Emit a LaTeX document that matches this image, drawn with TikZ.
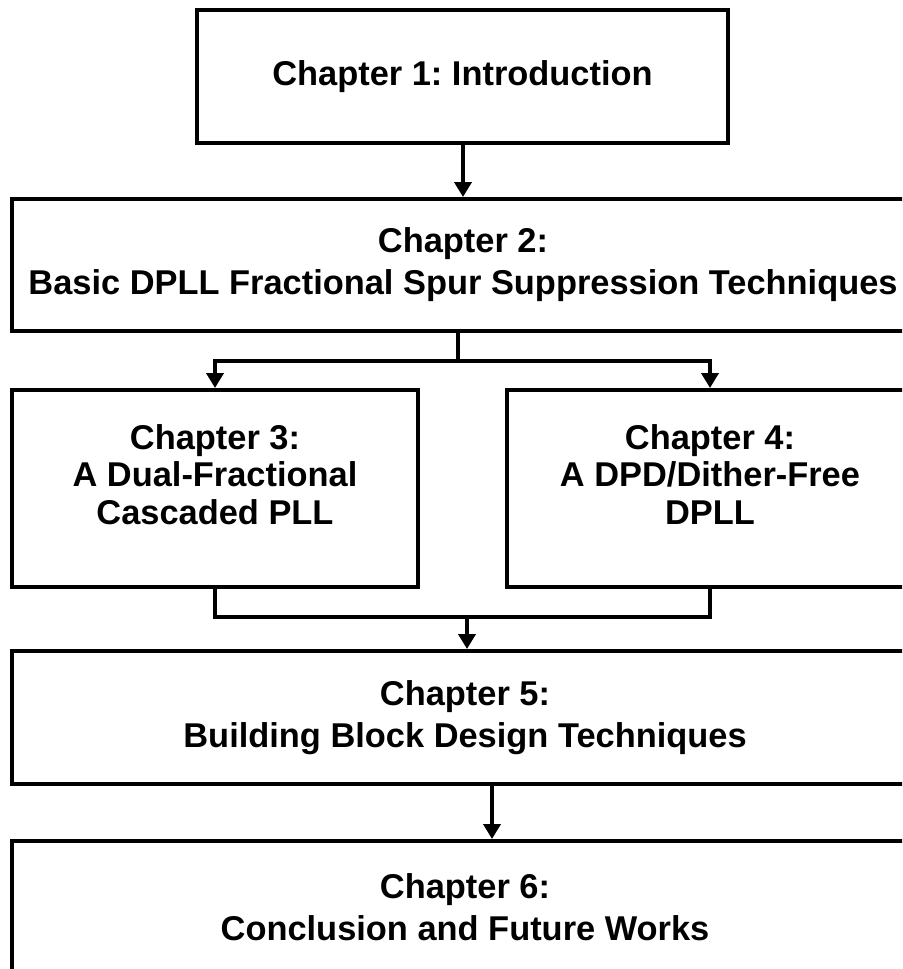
\documentclass[tikz,border=0pt]{standalone}
\usepackage{fontspec}
\setmainfont{Liberation Sans}
\frenchspacing
\usetikzlibrary{arrows.meta}
\usetikzlibrary{positioning}

\begin{document}
\begin{tikzpicture}[x=0.5pt,y=-0.5pt]
  \tikzset{vertex/.style = {shape=rectangle,draw,line width=2pt,align=center,inner sep=0pt,
      font=\fontsize{17.2}{21}\selectfont\bfseries}}
  \tikzset{pair/.style = {vertex,minimum width=203pt,minimum height=98.5pt,
      font=\fontsize{17.2}{18.75}\selectfont\bfseries,text depth=14pt}}
  \tikzset{edge/.style = {->,> = {Triangle[length=7.5pt,width=8.5pt]},line width=2pt}}
  \tikzset{link/.style = {line width=2pt}}

  \useasboundingbox (0,0) rectangle (902,969);
  \clip (0,0) rectangle (902,969);

  \node[vertex, minimum width=265.5pt, minimum height=66.5pt] (ch1) at (462.5,76.5) {Chapter 1: Introduction};
  \node[vertex, minimum width=451pt, minimum height=66pt] (ch2) at (463,265)
  {Chapter 2:\\Basic DPLL Fractional Spur Suppression Techniques};

  \node[pair] (ch3) at (215,488.5) {Chapter 3:\\A Dual-Fractional\\Cascaded PLL};
  \node[pair] (ch4) at (710,488.5) {Chapter 4:\\A DPD/Dither-Free\\DPLL};

  \node[vertex, minimum width=453pt, minimum height=66.5pt] (ch5) at (465,717.5)
  {Chapter 5:\\Building Block Design Techniques};
  \node[vertex, minimum width=453pt, minimum height=66.5pt] (ch6) at (465,907.5)
  {Chapter 6:\\Conclusion and Future Works};

  \coordinate (split) at (458,361);
  \coordinate (merge) at (467,617);

  \draw[edge] (ch1.south -| ch2.north) to (ch2.north);

  \draw[link] (ch2.south -| split) to (split);
  \draw[edge] (split) -| (ch3.north);
  \draw[edge] (split) -| (ch4.north);

  \draw[link] (ch3.south) |- (merge) -| (ch4.south);
  \draw[edge] (merge) to (ch5.north -| merge);

  \draw[edge] ([xshift=13.5pt]ch5.south) to ([xshift=13.5pt]ch5.south |- ch6.north);
\end{tikzpicture}
\end{document}
